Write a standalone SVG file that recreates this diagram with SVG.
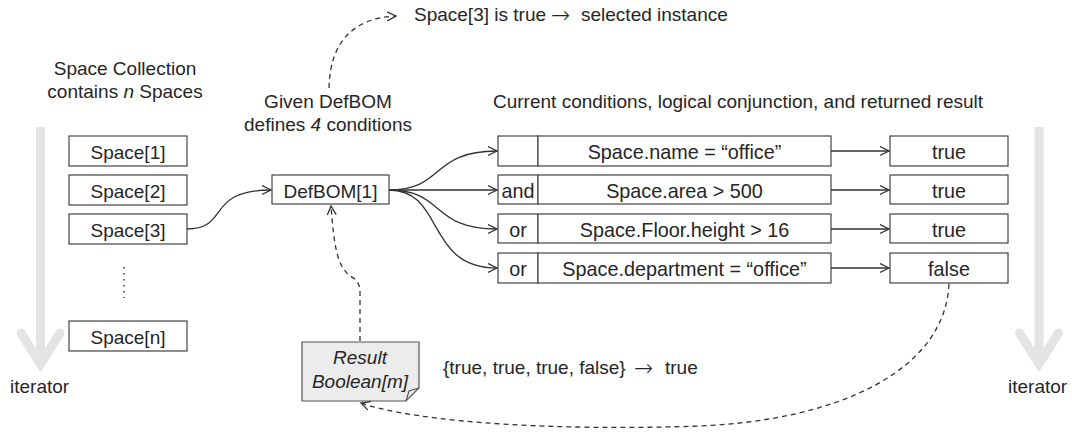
<svg xmlns="http://www.w3.org/2000/svg" width="1072" height="433" viewBox="0 0 1072 433">
  <style>
    text { font-family: "Liberation Sans", Arial, sans-serif; font-size: 19px; fill: #262626; }
    .c { text-anchor: middle; }
    .i { font-style: italic; }
    .cond { font-size: 19.8px; }
    .sym { font-family: "DejaVu Sans", sans-serif; font-size: 23px; font-weight: 200; }
    .box { fill: #fff; stroke: #444; stroke-width: 1.2; }
    .note { fill: #ececec; stroke: #555; stroke-width: 1.2; }
    .link { fill: none; stroke: #333; stroke-width: 1.3; }
    .dash { fill: none; stroke: #333; stroke-width: 1.3; stroke-dasharray: 5 4; }
    .iter { fill: none; stroke: #e4e4e4; stroke-width: 9; }
  </style>
  <defs>
    <marker id="arrow" markerWidth="12" markerHeight="12" refX="9" refY="5" orient="auto" markerUnits="userSpaceOnUse">
      <path d="M0,0.5 L9,5 L0,9.5" fill="none" stroke="#333" stroke-width="1.3"/>
    </marker>
  </defs>

  <rect width="1072" height="433" fill="#fff"/>

  <!-- iterator arrows -->
  <g id="iterator-left">
    <line class="iter" x1="40.5" y1="127" x2="40.5" y2="362"/>
    <polyline class="iter" points="21,333 40.5,364 60,333" stroke-linecap="round" stroke-linejoin="miter"/>
    <text x="10" y="393">iterator</text>
  </g>
  <g id="iterator-right">
    <line class="iter" x1="1039" y1="127" x2="1039" y2="362"/>
    <polyline class="iter" points="1019.5,333 1039,364 1058.5,333" stroke-linecap="round" stroke-linejoin="miter"/>
    <text x="1008" y="393">iterator</text>
  </g>

  <!-- headings -->
  <g id="headings">
    <text class="c" x="125" y="75">Space Collection</text>
    <text class="c" x="125" y="98">contains <tspan class="i">n</tspan> Spaces</text>
    <text class="c" x="328" y="108">Given DefBOM</text>
    <text class="c" x="328" y="131">defines <tspan class="i">4</tspan> conditions</text>
    <text x="493" y="108">Current conditions, logical conjunction, and returned result</text>
    <text x="414" y="21">Space[3] is true<tspan class="sym" x="551" y="23">→</tspan><tspan x="581" y="21">selected instance</tspan></text>
    <text x="443" y="374">{true, true, true, false}<tspan class="sym" x="634" y="376">→</tspan><tspan x="665" y="374">true</tspan></text>
  </g>

  <!-- space collection -->
  <g id="space-1"><rect class="box" x="69" y="136" width="118" height="30"/><text class="c" x="128" y="158.5">Space[1]</text></g>
  <g id="space-2"><rect class="box" x="69" y="175" width="118" height="30"/><text class="c" x="128" y="197.5">Space[2]</text></g>
  <g id="space-3"><rect class="box" x="69" y="214" width="118" height="30"/><text class="c" x="128" y="236.5">Space[3]</text></g>
  <g id="space-dots"><line x1="124" y1="267" x2="124" y2="298" stroke="#333" stroke-width="1.5" stroke-dasharray="1.5 4.5"/></g>
  <g id="space-n"><rect class="box" x="69" y="321" width="118" height="30"/><text class="c" x="128" y="343.5">Space[n]</text></g>

  <!-- DefBOM -->
  <g id="defbom"><rect class="box" x="272" y="175" width="117" height="29"/><text class="c" x="330.5" y="197.5">DefBOM[1]</text></g>

  <!-- condition rows -->
  <g id="cond-1">
    <rect class="box" x="498" y="136" width="40" height="30"/>
    <rect class="box" x="538" y="136" width="293" height="30"/>
    <text class="c cond" x="684.5" y="158.5">Space.name = “office”</text>
  </g>
  <g id="cond-2">
    <rect class="box" x="498" y="175" width="40" height="29"/>
    <rect class="box" x="538" y="175" width="293" height="29"/>
    <text class="c cond" x="518" y="197.5">and</text>
    <text class="c cond" x="684.5" y="197.5">Space.area &gt; 500</text>
  </g>
  <g id="cond-3">
    <rect class="box" x="498" y="214" width="40" height="29"/>
    <rect class="box" x="538" y="214" width="293" height="29"/>
    <text class="c cond" x="518" y="236.5">or</text>
    <text class="c cond" x="684.5" y="236.5">Space.Floor.height &gt; 16</text>
  </g>
  <g id="cond-4">
    <rect class="box" x="498" y="253" width="40" height="30"/>
    <rect class="box" x="538" y="253" width="293" height="30"/>
    <text class="c cond" x="518" y="275.5">or</text>
    <text class="c cond" x="684.5" y="275.5">Space.department = “office”</text>
  </g>

  <!-- results -->
  <g id="result-1"><rect class="box" x="890" y="136" width="118" height="30"/><text class="c cond" x="949" y="158.5">true</text></g>
  <g id="result-2"><rect class="box" x="890" y="175" width="118" height="29"/><text class="c cond" x="949" y="197.5">true</text></g>
  <g id="result-3"><rect class="box" x="890" y="214" width="118" height="29"/><text class="c cond" x="949" y="236.5">true</text></g>
  <g id="result-4"><rect class="box" x="890" y="253" width="118" height="30"/><text class="c cond" x="949" y="275.5">false</text></g>

  <!-- result note -->
  <g id="result-note">
    <path class="note" d="M302,342 H419 V388 L406,401 H302 Z"/>
    <path d="M406,401 L409,391 L419,388" fill="none" stroke="#555" stroke-width="1.2"/>
    <text class="c i" x="360" y="364">Result</text>
    <text class="c i" x="360" y="388">Boolean[m]</text>
  </g>

  <!-- connectors -->
  <g id="connectors">
    <path class="link" d="M187,229 C230,229 205,190 271,190" marker-end="url(#arrow)"/>
    <path class="link" d="M389,190 C445,190 430,151 497,151" marker-end="url(#arrow)"/>
    <path class="link" d="M389,190 L497,190" marker-end="url(#arrow)"/>
    <path class="link" d="M389,190 C445,190 430,229 497,229" marker-end="url(#arrow)"/>
    <path class="link" d="M389,190 C445,190 425,268 497,268" marker-end="url(#arrow)"/>
    <path class="link" d="M831,151 L889,151" marker-end="url(#arrow)"/>
    <path class="link" d="M831,190 L889,190" marker-end="url(#arrow)"/>
    <path class="link" d="M831,229 L889,229" marker-end="url(#arrow)"/>
    <path class="link" d="M831,268 L889,268" marker-end="url(#arrow)"/>
    <path class="dash" d="M329,88 C330,40 355,18 396,16" marker-end="url(#arrow)"/>
    <path class="dash" d="M360,341 L360,292 C360,278 350,278 346,272 C337,262 334,245 331,206" marker-end="url(#arrow)"/>
    <path class="dash" d="M949,284 C945,370 840,420 700,426 C560,431 420,423 361,403" marker-end="url(#arrow)"/>
  </g>
</svg>
